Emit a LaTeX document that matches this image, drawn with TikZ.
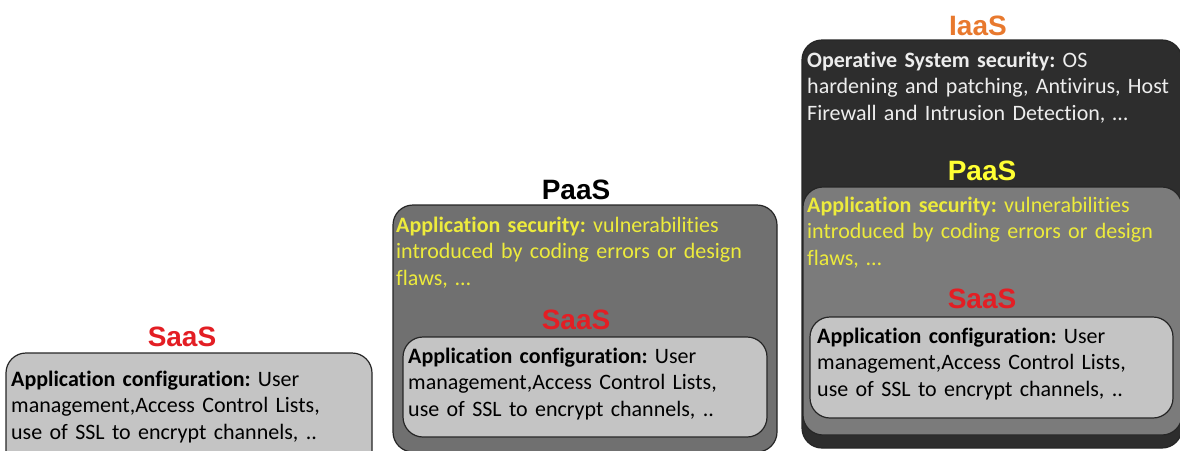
\documentclass[tikz,border=0pt]{standalone}
\usepackage{fontspec}
\setmainfont[WordSpace=0.85, RawFeature={-liga;-calt;-clig}]{Carlito}
\newfontfamily\headfont{Liberation Sans}
\frenchspacing
\definecolor{edge}{HTML}{262626}
\definecolor{saasfill}{HTML}{C4C4C4}
\definecolor{paasfill}{HTML}{707070}
\definecolor{paasinner}{HTML}{7B7B7B}
\definecolor{iaasfill}{HTML}{2D2D2D}
\definecolor{saasred}{HTML}{E31E24}
\definecolor{iaasorange}{HTML}{E8792E}
\definecolor{paasyellow}{HTML}{FFFF33}
\definecolor{softyellow}{HTML}{EDEB3C}
\definecolor{softwhite}{HTML}{EDEDED}
\tikzset{
  layer/.style={draw=edge, line width=1.2pt, rounded corners=20pt},
  head/.style={font=\headfont\bfseries\fontsize{28}{30}\selectfont, inner sep=0pt, anchor=base},
  body/.style={font=\fontsize{22}{26.5}\selectfont, inner sep=0pt, anchor=base west,
               align=left, text width=380pt},
}
\begin{document}
\begin{tikzpicture}[x=1pt,y=-1pt]
\useasboundingbox (0,0) rectangle (1180,450);
\clip (0,0) rectangle (1180,450);

% --- SaaS alone ---
\path[layer, fill=saasfill] (6,353) rectangle (372,470);
\node[head, text=saasred] (saas1) at (182,346) {SaaS};
\node[body, text=black] (saas1txt) at (11,386)
  {\textbf{Application configuration:} User\\management,Access Control Lists,\\use of SSL to encrypt channels, ..};

% --- PaaS with SaaS inside ---
\path[layer, fill=paasfill] (393,205) rectangle (777,452);
\node[head, text=black] (paas2) at (576,199) {PaaS};
\node[body, text=softyellow] (paas2txt) at (396,232)
  {\textbf{Application security:} vulnerabilities\\introduced by coding errors or design\\flaws, …};
\path[layer, fill=saasfill] (403,337) rectangle (767,437);
\node[head, text=saasred] (saas2) at (576,329) {SaaS};
\node[body, text=black] (saas2txt) at (408,363)
  {\textbf{Application configuration:} User\\management,Access Control Lists,\\use of SSL to encrypt channels, ..};

% --- IaaS with PaaS and SaaS inside ---
\path[layer, fill=iaasfill] (802,40) rectangle (1182,448);
\node[head, text=iaasorange] (iaas3) at (978,35) {IaaS};
\node[body, text=softwhite] (iaas3txt) at (807,67)
  {\textbf{Operative System security:} OS\\hardening and patching, Antivirus, Host\\Firewall and Intrusion Detection, …};
\path[layer, fill=paasinner] (803,187) rectangle (1182,435);
\node[head, text=paasyellow] (paas3) at (982,180) {PaaS};
\node[body, text=softyellow] (paas3txt) at (807,212)
  {\textbf{Application security:} vulnerabilities\\introduced by coding errors or design\\flaws, …};
\path[layer, fill=saasfill] (810,317) rectangle (1173,418);
\node[head, text=saasred] (saas3) at (982,308) {SaaS};
\node[body, text=black] (saas3txt) at (817,343)
  {\textbf{Application configuration:} User\\management,Access Control Lists,\\use of SSL to encrypt channels, ..};
\end{tikzpicture}
\end{document}
